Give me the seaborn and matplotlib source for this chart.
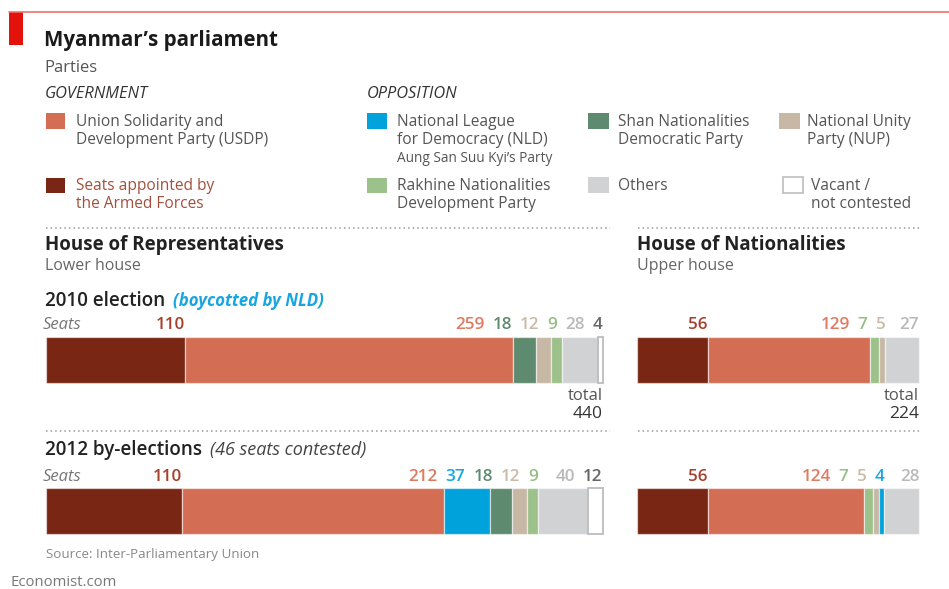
import numpy as np
import pandas as pd
import matplotlib
matplotlib.use("Agg")
import matplotlib.pyplot as plt
import seaborn as sns
from matplotlib.lines import Line2D
from matplotlib.patches import Rectangle
from matplotlib.transforms import blended_transform_factory

# ---------------- data ----------------
legend_keys = ["USDP", "Armed", "NLD", "Rakhine", "Shan", "Others", "NUP", "Vacant"]
legend_labels = ["Union Solidarity and\nDevelopment Party (USDP)",
                 "Seats appointed by\nthe Armed Forces",
                 "National League\nfor Democracy (NLD)",
                 "Rakhine Nationalities\nDevelopment Party",
                 "Shan Nationalities\nDemocratic Party",
                 "Others",
                 "National Unity\nParty (NUP)",
                 "Vacant /\nnot contested"]

lower_2010_parties = ["Armed", "USDP", "Shan", "NUP", "Rakhine", "Others", "Vacant"]
lower_2010_seats = [110, 259, 18, 12, 9, 28, 4]
lower_2012_parties = ["Armed", "USDP", "NLD", "Shan", "NUP", "Rakhine", "Others", "Vacant"]
lower_2012_seats = [110, 212, 37, 18, 12, 9, 40, 12]
upper_2010_parties = ["Armed", "USDP", "Rakhine", "NUP", "Others"]
upper_2010_seats = [56, 129, 7, 5, 27]
upper_2012_parties = ["Armed", "USDP", "Rakhine", "NUP", "NLD", "Others"]
upper_2012_seats = [56, 124, 7, 5, 4, 28]
lower_total = 440
upper_total = 224

# ---------------- style ----------------
fills = {"Armed": "#7a2614", "USDP": "#d36e55", "NLD": "#00a2dc", "Shan": "#5e8a6f",
         "NUP": "#c6b8a4", "Rakhine": "#9cc18b", "Others": "#d1d2d4", "Vacant": "#ffffff"}
label_colors = {"Armed": "#a4412d", "USDP": "#e07a61", "NLD": "#16a6e0", "Shan": "#5e8a6f",
                "NUP": "#c9bba8", "Rakhine": "#96bf86", "Others": "#b8b9bb", "Vacant": "#666666"}

sns.set_style("white")
plt.rcParams["font.family"] = ["Open Sans", "DejaVu Sans"]

W, H = 949, 589
fig = plt.figure(figsize=(W / 100, H / 100), dpi=100)
fig.patch.set_facecolor("white")


def X(px):
    return px / W


def Y(py):
    return 1 - py / H


def ftext(px, py, s, **kw):
    kw.setdefault("va", "baseline")
    return fig.text(X(px), Y(py), s, **kw)


def frect(l, t, r, b, **kw):
    fig.add_artist(Rectangle((X(l), Y(b)), (r - l) / W, (b - t) / H,
                             transform=fig.transFigure, **kw))


def fline(x0, x1, y, **kw):
    fig.add_artist(Line2D([X(x0), X(x1)], [Y(y), Y(y)], transform=fig.transFigure, **kw))


LEG = 11.2

# ---------------- header ----------------
fline(9, 949, 11.7, color="#ef6f6a", lw=1.2)
frect(9, 12, 23, 45, facecolor="#e3120b", edgecolor="none")
ftext(44, 46, "Myanmar\u2019s parliament", fontsize=14.8, weight="bold", color="#1a1a1a")
ftext(44, 72, "Parties", fontsize=12, color="#555555")
ftext(45, 98, "GOVERNMENT", fontsize=11.8, style="italic", color="#333333")
ftext(367, 98, "OPPOSITION", fontsize=11.8, style="italic", color="#333333")

# legend layout (pixel boxes for swatches, text x, first baseline)
leg_pos = {"USDP": (46, 113, 65, 129, 76, 126),
           "Armed": (46, 178, 65, 193, 76, 190),
           "NLD": (367, 113, 387, 129, 397, 126),
           "Rakhine": (367, 178, 387, 193, 397, 190),
           "Shan": (588, 113, 609, 129, 618, 126),
           "Others": (588, 177, 609, 193, 618, 190),
           "NUP": (779, 113, 800, 129, 807, 126),
           "Vacant": (783, 177, 803, 193, 811, 190)}
for key, lab in zip(legend_keys, legend_labels):
    l, t, r, b, tx, ty = leg_pos[key]
    if key == "Vacant":
        frect(l, t, r, b, facecolor="white", edgecolor="#bdbdbd", lw=1.2)
    else:
        frect(l, t, r, b, facecolor=fills[key], edgecolor="none")
    col = "#a3503c" if key == "Armed" else "#555555"
    for i, line in enumerate(lab.split("\n")):
        ftext(tx, ty + 18 * i, line, fontsize=LEG, color=col)
ftext(397, 162, "Aung San Suu Kyi\u2019s Party", fontsize=9.8, color="#555555")

# ---------------- section headers ----------------
dot = dict(color="#9a9a9a", lw=1.1, linestyle=(0, (1, 2)))
fline(46, 610, 228, **dot)
fline(638, 922, 228, **dot)
fline(46, 610, 431, **dot)
fline(638, 922, 431, **dot)

ftext(45, 250, "House of Representatives", fontsize=13.5, weight="bold", color="#222222")
ftext(45, 270, "Lower house", fontsize=11.5, color="#666666")
ftext(637, 250, "House of Nationalities", fontsize=13.5, weight="bold", color="#222222")
ftext(637, 270, "Upper house", fontsize=11.5, color="#666666")

t2010 = ftext(45, 306, "2010 election", fontsize=13.6, weight="semibold", color="#222222")
t2012 = ftext(45, 455, "2012 by-elections", fontsize=13.6, weight="semibold", color="#222222")
ftext(43, 329, "Seats", fontsize=12, style="italic", color="#777777")
ftext(43, 481, "Seats", fontsize=12, style="italic", color="#777777")

ftext(603, 400, "total", fontsize=12, ha="right", color="#555555")
ftext(603, 418, str(lower_total), fontsize=12.5, ha="right", color="#333333")
ftext(919, 400, "total", fontsize=12, ha="right", color="#555555")
ftext(919, 418, str(upper_total), fontsize=12.5, ha="right", color="#333333")

ftext(46, 558, "Source: Inter-Parliamentary Union", fontsize=9.6, color="#888888")
ftext(10, 586, "Economist.com", fontsize=10.7, color="#777777")


# ---------------- bars ----------------
def make_bar(l, r, t, b, names, seats):
    ax = fig.add_axes([X(l), Y(b), (r - l) / W, (b - t) / H])
    cum = 0
    for n, s in zip(names, seats):
        df = pd.DataFrame({"row": ["seats"], "value": [s]})
        vac = n == "Vacant"
        sns.barplot(data=df, x="value", y="row", orient="h", left=cum,
                    color=fills[n], saturation=1, width=1, errorbar=None, ax=ax,
                    edgecolor="#bcbcbc" if vac else (1, 1, 1, 0.55),
                    linewidth=1.3 if vac else 0.9)
        cum += s
    for p in ax.patches:
        p.set_clip_on(False)
    ax.set_xlim(0, cum)
    ax.set_ylim(0.5, -0.5)
    ax.axis("off")
    return ax


rows = [
    (46, 602.7, 336.7, 382.7, lower_2010_parties, lower_2010_seats, 329),
    (46, 602.5, 488.3, 534.0, lower_2012_parties, lower_2012_seats, 481),
    (637.3, 919.3, 336.7, 382.7, upper_2010_parties, upper_2010_seats, 329),
    (637.3, 919.3, 488.3, 533.5, upper_2012_parties, upper_2012_seats, 481),
]

axes = []
for (l, r, t, b, names, seats, base) in rows:
    ax = make_bar(l, r, t, b, names, seats)
    tr = blended_transform_factory(ax.transData, ax.transAxes)
    yax = 1 + (t - base) / (b - t)
    ends = np.cumsum(seats)
    texts = []
    for n, s, e in zip(names, seats, ends):
        txt = ax.text(e, yax, str(s), transform=tr, ha="right", va="baseline",
                      fontsize=12.3, weight="semibold", color=label_colors[n], clip_on=False)
        texts.append(txt)
    axes.append((ax, texts, ends))

# subtitle pieces after section titles
fig.canvas.draw()
renderer = fig.canvas.get_renderer()
for base_t, s, kw in [(t2010, "(boycotted by NLD)", dict(style="italic", weight="bold", color="#18a6e0", fontsize=12.2)),
                      (t2012, "(46 seats contested)", dict(style="italic", color="#444444", fontsize=13))]:
    bb = base_t.get_window_extent(renderer)
    py = base_t.get_position()[1]
    fig.text((bb.x1 + 8) / W, py, s, va="baseline", **kw)

# de-overlap number labels from right to left
gap = 8
for ax, texts, ends in axes:
    ppu = ax.bbox.width / (ax.get_xlim()[1] - ax.get_xlim()[0])
    limit = None
    for txt, e in zip(reversed(texts), reversed(list(ends))):
        w = txt.get_window_extent(renderer).width / ppu
        x = e if limit is None else min(e, limit)
        txt.set_x(x)
        limit = x - w - gap / ppu

fig.savefig("out.png", dpi=100, facecolor="white")
